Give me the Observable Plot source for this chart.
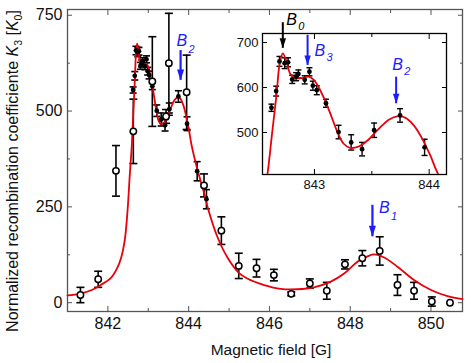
<!DOCTYPE html>
<html><head><meta charset="utf-8">
<script src="https://cdn.jsdelivr.net/npm/d3@7"></script>
<script src="https://cdn.jsdelivr.net/npm/@observablehq/plot@0.6"></script>
<style>
body{margin:0;background:#fff;}
#wrap{position:relative;width:471px;height:363px;background:#fff;}
#wrap svg{position:absolute;overflow:visible;}
</style></head><body><div id="wrap"></div>
<script>
// Open-circle measurements (main panel only)
const openX   = [841.32, 841.76, 842.20, 842.63, 843.10, 843.44, 843.51, 843.95, 844.38, 844.81, 845.24, 845.68, 846.11, 846.54, 847.00, 847.42, 847.87, 848.30, 848.73, 849.17, 849.58, 850.02, 850.47];
const openY   = [20, 61, 344, 447, 577, 486, 625, 549, 306, 188, 96, 90, 72, 23, 50, 31, 100, 116, 135, 46, 31, 3, 0];
const openErr = [20, 21, 66, 84, 117, 18, 130, 97, 30, 36, 33, 23, 15, 5, 12, 22, 12, 20, 37, 27, 22, 12, 0];
// Filled measurements (shown in inset and main)
const fillX   = [842.625, 842.666, 842.695, 842.740, 842.770, 842.806, 842.840, 842.860, 842.915, 842.956, 842.986, 843.020, 843.100, 843.210, 843.320, 843.415, 843.520, 843.746, 843.960, 844.210, 844.440];
const fillY   = [555, 592, 658, 654, 656, 618, 624, 630, 617, 635, 604, 594, 565, 501, 478, 463, 505, 538, 467, 343, 270];
const fillErr = [8, 11, 11, 12, 10, 9, 9, 9, 9, 9, 10, 10, 9, 15, 17, 15, 16, 15, 18, 25, 25];
// Fitted curve
const curveX = [841.0, 841.3, 841.6, 841.82, 842.07, 842.23, 842.33, 842.42, 842.49, 842.54, 842.59, 842.63, 842.67, 842.695, 842.724, 842.753, 842.79, 842.834, 842.89, 842.95, 842.994, 843.04, 843.08, 843.14, 843.2, 843.255, 843.31, 843.385, 843.47, 843.56, 843.645, 843.72, 843.79, 843.866, 843.94, 844.01, 844.07, 844.21, 844.38, 844.5, 844.71, 844.96, 845.25, 845.45, 845.87, 846.28, 846.69, 847.1, 847.52, 847.85, 848.18, 848.43, 848.59, 848.84, 849.17, 849.58, 850.0, 850.41, 850.78];
const curveY = [19, 23, 33, 46, 64, 90, 118, 165, 245, 330, 407, 497, 586, 650, 676, 660, 630, 621, 621, 624, 617, 599, 578, 541, 501, 475, 466, 469, 484, 508, 528, 536, 533, 516, 486, 449, 412, 350, 287, 238, 172, 118, 77, 63, 46, 36, 35, 40, 55, 76, 107, 121, 126, 118, 94, 59, 33, 17, 9];
// Axis ticks
const xMajor = [842, 844, 846, 848, 850], xMinor = [841, 843, 845, 847, 849];
const yMajor = [0, 250, 500, 750], yMinor = [125, 375, 625];
const inXMajor = [843, 844], inXMinor = [843.5];
const inYMajor = [500, 600, 700];
// Resonance markers
const mainArrowX = [843.80, 848.55], mainArrowTop = [658, 254], mainArrowTip = [580, 172];
const mainLabelX = [843.70, 848.71], mainLabelY = [671, 233], mainLabelSub = ["2", "1"];
const inArrowX = [842.724, 842.94, 843.712], inArrowTop = [744, 716, 623], inArrowTip = [687, 649, 564];
const inLabelX = [842.753, 843.0, 843.677], inLabelY = [738, 671, 638], inLabelSub = ["0", "3", "2"];
const inArrowColor = ["black", "blue", "blue"];

const BLUE = "#1c1cff", RED = "#e8000b", FRAME = "#555";
const openData = openX.map((x, i) => ({x, y: openY[i], e: openErr[i]}));
const fillData = fillX.map((x, i) => ({x, y: fillY[i], e: fillErr[i]}));
const curve = curveX.map((x, i) => ({x, y: curveY[i]}));
const mainArrows = mainArrowX.map((x, i) => ({x, top: mainArrowTop[i], tip: mainArrowTip[i]}));
const mainLabels = mainLabelX.map((x, i) => ({x, y: mainLabelY[i], sub: mainLabelSub[i]}));
const inArrows = inArrowX.map((x, i) => ({x, top: inArrowTop[i], tip: inArrowTip[i], c: inArrowColor[i] === "black" ? "black" : BLUE}));
const inLabels = inLabelX.map((x, i) => ({x, y: inLabelY[i], sub: inLabelSub[i], c: inArrowColor[i] === "black" ? "black" : BLUE}));

const cap = w => ({draw(ctx) { ctx.moveTo(-w, 0); ctx.lineTo(w, 0); }});
const head = (w, h) => ({draw(ctx) { ctx.moveTo(0, 0); ctx.lineTo(-w, -h); ctx.lineTo(w, -h); ctx.closePath(); }});

function errMarks(data, w, sw) {
  const d2 = data.filter(d => d.e > 0);
  return [
    Plot.ruleX(d2, {x: "x", y1: d => d.y - d.e, y2: d => d.y + d.e, stroke: "black", strokeWidth: sw}),
    Plot.dot(d2, {x: "x", y: d => d.y + d.e, symbol: cap(w), stroke: "black", strokeWidth: sw}),
    Plot.dot(d2, {x: "x", y: d => d.y - d.e, symbol: cap(w), stroke: "black", strokeWidth: sw})
  ];
}

const font = "'Liberation Sans', Arial, Helvetica, sans-serif";

const main = Plot.plot({
  width: 471, height: 363,
  marginLeft: 67, marginRight: 9, marginTop: 9, marginBottom: 52,
  style: {fontFamily: font, fontSize: "16px", color: "#111", background: "transparent"},
  x: {domain: [841, 850.78]},
  y: {domain: [-23, 765]},
  marks: [
    Plot.frame({stroke: FRAME, strokeWidth: 1.3}),
    Plot.axisX(xMajor, {anchor: "bottom", tickSize: -5, fill: "none", stroke: FRAME, label: null}),
    Plot.axisX(xMinor, {anchor: "bottom", tickSize: -3, fill: "none", stroke: FRAME, label: null}),
    Plot.axisX(xMajor, {anchor: "top", tickSize: -5, fill: "none", stroke: FRAME, label: null}),
    Plot.axisX(xMinor, {anchor: "top", tickSize: -3, fill: "none", stroke: FRAME, label: null}),
    Plot.axisY(yMajor, {anchor: "left", tickSize: -5, fill: "none", stroke: FRAME, label: null}),
    Plot.axisY(yMinor, {anchor: "left", tickSize: -3, fill: "none", stroke: FRAME, label: null}),
    Plot.axisY(yMajor, {anchor: "right", tickSize: -5, fill: "none", stroke: FRAME, label: null}),
    Plot.axisY(yMinor, {anchor: "right", tickSize: -3, fill: "none", stroke: FRAME, label: null}),
    Plot.axisX(xMajor, {anchor: "bottom", tickSize: 0, tickPadding: 6, label: null, fontSize: 16, tickFormat: d => String(d)}),
    Plot.axisY(yMajor, {anchor: "left", tickSize: 0, tickPadding: 5, label: null, fontSize: 16, tickFormat: d => String(d)}),
    ...errMarks(openData, 4, 1.6),
    ...errMarks(fillData, 3.5, 1.6),
    Plot.line(curve, {x: "x", y: "y", curve: "catmull-rom", stroke: RED, strokeWidth: 1.8}),
    Plot.dot(openData, {x: "x", y: "y", r: 3.2, fill: "white", stroke: "black", strokeWidth: 1.5}),
    Plot.dot(fillData, {x: "x", y: "y", r: 2.4, fill: "black"}),
    Plot.ruleX(mainArrows, {x: "x", y1: "top", y2: "tip", stroke: BLUE, strokeWidth: 2.2}),
    Plot.dot(mainArrows, {x: "x", y: "tip", symbol: head(3.5, 11), fill: BLUE, stroke: "none"}),
    Plot.text(mainLabels, {x: "x", y: "y", text: () => "B", textAnchor: "start", lineAnchor: "bottom", fontStyle: "italic", fontSize: 16, fill: BLUE}),
    Plot.text(mainLabels, {x: "x", y: "y", text: "sub", dx: 12, dy: 7, textAnchor: "start", lineAnchor: "bottom", fontStyle: "italic", fontSize: 11, fill: BLUE})
  ]
});
main.style.left = "0px"; main.style.top = "0px";

// axis titles with subscripts
const svgm = d3.select(main);
const yt = svgm.append("text")
  .attr("transform", "translate(18,171) rotate(-90)")
  .attr("text-anchor", "middle")
  .attr("font-family", font).attr("font-size", 16).attr("fill", "#111");
yt.append("tspan").text("Normalized recombination coefficiente ");
yt.append("tspan").attr("font-style", "italic").text("K");
yt.append("tspan").attr("font-size", 10.5).attr("dy", 4).text("3");
yt.append("tspan").attr("dy", -4).text(" [");
yt.append("tspan").attr("font-style", "italic").text("K");
yt.append("tspan").attr("font-size", 10.5).attr("dy", 4).text("0");
yt.append("tspan").attr("dy", -4).text("]");
svgm.append("text")
  .attr("x", 271).attr("y", 355).attr("text-anchor", "middle")
  .attr("font-family", font).attr("font-size", 15.5).attr("fill", "#111")
  .text("Magnetic field [G]");

const inFill = fillData.filter(d => d.x < 844.1);
const inset = Plot.plot({
  width: 220, height: 184,
  marginLeft: 32, marginRight: 4, marginTop: 25, marginBottom: 18,
  style: {fontFamily: font, fontSize: "13px", color: "#111", background: "transparent", overflow: "visible"},
  x: {domain: [842.547, 844.151]},
  y: {domain: [406.7, 720]},
  marks: [
    Plot.frame({fill: "white", stroke: "black", strokeWidth: 1.3}),
    Plot.axisX(inXMajor, {anchor: "bottom", tickSize: -5, fill: "none", stroke: "black", label: null}),
    Plot.axisX(inXMinor, {anchor: "bottom", tickSize: -3, fill: "none", stroke: "black", label: null}),
    Plot.axisX(inXMajor, {anchor: "top", tickSize: -5, fill: "none", stroke: "black", label: null}),
    Plot.axisX(inXMinor, {anchor: "top", tickSize: -3, fill: "none", stroke: "black", label: null}),
    Plot.axisY(inYMajor, {anchor: "left", tickSize: -5, fill: "none", stroke: "black", label: null}),
    Plot.axisY(inYMajor, {anchor: "right", tickSize: -5, fill: "none", stroke: "black", label: null}),
    Plot.axisX(inXMajor, {anchor: "bottom", tickSize: 0, tickPadding: 5, label: null, fontSize: 13, tickFormat: d => String(d)}),
    Plot.axisY(inYMajor, {anchor: "left", tickSize: 0, tickPadding: 4, label: null, fontSize: 13, tickFormat: d => String(d)}),
    ...errMarks(inFill, 3, 1.4),
    Plot.line(curve, {x: "x", y: "y", curve: "catmull-rom", stroke: RED, strokeWidth: 1.8, clip: true}),
    Plot.dot(inFill, {x: "x", y: "y", r: 2.4, fill: "black"}),
    Plot.ruleX(inArrows, {x: "x", y1: "top", y2: "tip", stroke: "c", strokeWidth: 2}),
    Plot.dot(inArrows, {x: "x", y: "tip", symbol: head(3.2, 10), fill: "c", stroke: "none"}),
    Plot.text(inLabels, {x: "x", y: "y", text: () => "B", textAnchor: "start", lineAnchor: "bottom", fontStyle: "italic", fontSize: 16, fill: "c"}),
    Plot.text(inLabels, {x: "x", y: "y", text: "sub", dx: 12, dy: 5, textAnchor: "start", lineAnchor: "bottom", fontStyle: "italic", fontSize: 11, fill: "c"})
  ]
});
inset.style.left = "230px"; inset.style.top = "8px";

const wrap = document.getElementById("wrap");
wrap.appendChild(main);
wrap.appendChild(inset);
</script>
</body></html>
